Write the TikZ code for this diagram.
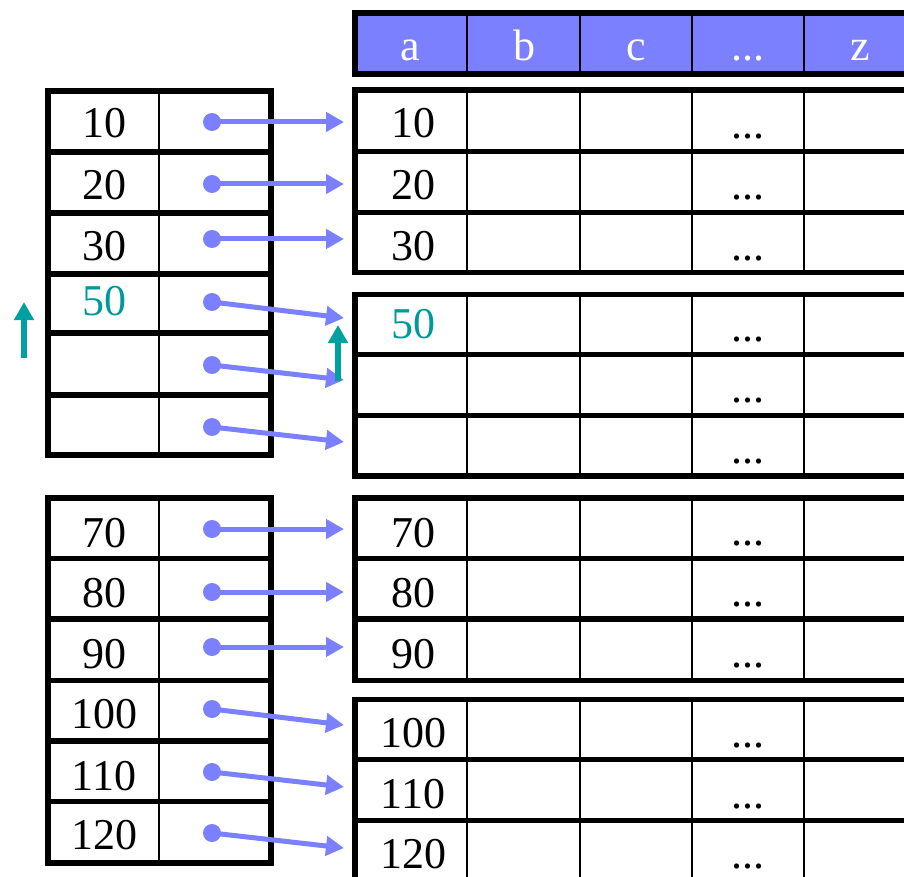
\documentclass[tikz,border=0pt]{standalone}
\usepackage{fontspec}
\setmainfont{Liberation Serif}
\usetikzlibrary{arrows.meta}
\definecolor{hdr}{RGB}{122,128,255}
\definecolor{ptr}{RGB}{122,128,255}
\definecolor{tl}{RGB}{0,160,160}
\definecolor{tltext}{RGB}{0,153,153}
\begin{document}
\begin{tikzpicture}[x=1pt,y=-1pt,
  num/.style={anchor=base,inner sep=0pt,font=\fontsize{44}{50}\selectfont},
  hnum/.style={num,text=white},
  cellsep/.style={line width=2.5pt},
  rowline/.style={line width=5.5pt},
  border/.style={line width=6pt},
  ptrarrow/.style={draw=ptr,line width=5pt,-{Triangle[length=18pt,width=19pt]}},
  ptrdot/.style={fill=ptr},
  uparrow/.style={draw=tl,line width=6pt,-{Triangle[length=18pt,width=19pt]}}
]
\useasboundingbox (0,0) rectangle (904,877);
\clip (0,0) rectangle (904,877);

% ---------- left index tables ----------
% top
\draw[cellsep] (159,91) -- (159,455);
\foreach \y in {152,213,274,333,395} \draw[rowline] (47.5,\y) -- (270.5,\y);
\draw[border] (47.5,91) rectangle (270.5,455);
% bottom
\draw[cellsep] (159,498) -- (159,863);
\foreach \y in {558.5,619,680.5,741,801.5} \draw[rowline] (47.5,\y) -- (270.5,\y);
\draw[border] (47.5,498) rectangle (270.5,863);

% ---------- header ----------
\fill[hdr] (355,13) rectangle (920,74);
\foreach \x in {467,580,692,804} \draw[cellsep] (\x,13) -- (\x,74);
\draw[rowline] (352,13) -- (920,13);
\draw[rowline] (352,74) -- (920,74);
\draw[border] (355,10) -- (355,77);

% ---------- right data groups ----------
\foreach \t/\a/\b/\c in {90/151.5/212.5/272.5, 294.5/354.5/415.5/476, 498/558.5/619/680.5, 699.7/759.7/820.5/881}{
  \foreach \x in {467,580,692,804} \draw[cellsep] (\x,\t) -- (\x,\c);
  \foreach \y in {\t,\a,\b,\c} \draw[rowline] (352,\y) -- (920,\y);
  \draw[border] (355,\t-2.75) -- (355,\c+2.75);
}

% ---------- header labels ----------
\node[hnum] (H1) at (410,61) {a};
\node[hnum] (H2) at (524,61) {b};
\node[hnum] (H3) at (636,61) {c};
\node[hnum] (H4) at (748,61) {...};
\node[hnum] (H5) at (860,61) {z};

% ---------- left labels ----------
\node[num] (L1) at (104,138) {10};
\node[num] (L2) at (104,200) {20};
\node[num] (L3) at (104,261) {30};
\node[num,text=tltext] (L4) at (104,315) {50};
\node[num] (L7) at (104,547) {70};
\node[num] (L8) at (104,607) {80};
\node[num] (L9) at (104,668) {90};
\node[num] (L10) at (104,728) {100};
\node[num] (L11) at (104,790) {110};
\node[num] (L12) at (104,849) {120};

% ---------- right labels ----------
\node[num] (R1) at (413,138) {10};
\node[num] (R2) at (413,200) {20};
\node[num] (R3) at (413,261) {30};
\node[num,text=tltext] (R4) at (413,338) {50};
\node[num] (R7) at (413,547) {70};
\node[num] (R8) at (413,607) {80};
\node[num] (R9) at (413,668) {90};
\node[num] (R10) at (413,747) {100};
\node[num] (R11) at (413,808) {110};
\node[num] (R12) at (413,868) {120};

% ---------- dots column ----------
\foreach \y [count=\i] in {139,200,260,341,402,463,545,606,667,747,808,868}
  \node[num] (D\i) at (748,\y) {...};

% ---------- pointer arrows ----------
\foreach \i/\sy/\ey in {1/122/122, 2/184/184, 3/239/239, 4/302/318, 5/365/380, 6/427/442,
                        7/529/529, 8/592/592, 9/647/647, 10/709/725, 11/772/787, 12/833/848}{
  \coordinate (s\i) at (212,\sy);
  \coordinate (e\i) at (344,\ey);
  \fill[ptrdot] (s\i) circle (9);
  \draw[ptrarrow] (s\i) -- (e\i);
}

% ---------- teal up arrows ----------
\coordinate (ta0) at (24,358);
\coordinate (ta1) at (24,302);
\coordinate (tb0) at (338,381);
\coordinate (tb1) at (338,325);
\draw[uparrow] (ta0) -- (ta1);
\draw[uparrow] (tb0) -- (tb1);
\end{tikzpicture}
\end{document}
